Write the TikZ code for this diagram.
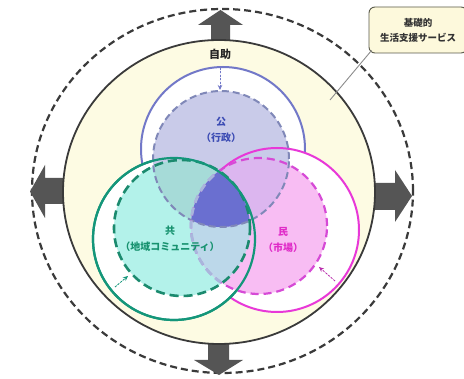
\documentclass[tikz,border=0pt]{standalone}
\usepackage{fontspec}
\setmainfont{Noto Sans CJK JP}
\usetikzlibrary{arrows.meta}
\definecolor{yellowbg}{HTML}{FDFBE3}
\definecolor{ringline}{HTML}{3A3A3A}
\definecolor{arrowgrey}{HTML}{555555}
\definecolor{bsolid}{HTML}{7278C8}
\definecolor{gsolid}{HTML}{14967A}
\definecolor{psolid}{HTML}{E838D8}
\definecolor{bdash}{HTML}{8088B8}
\definecolor{gdash}{HTML}{1B8A6E}
\definecolor{pdash}{HTML}{D64AD6}
\definecolor{pfaded}{HTML}{A9B6DC}
\definecolor{fillB}{HTML}{C9CBE9}
\definecolor{fillG}{HTML}{B3F2EA}
\definecolor{fillP}{HTML}{F8BDF3}
\definecolor{fillBG}{HTML}{A6DBD8}
\definecolor{fillBP}{HTML}{DCB6EF}
\definecolor{fillGP}{HTML}{BCD8EA}
\definecolor{fillBGP}{HTML}{6A6FD0}
\definecolor{boxfill}{HTML}{FDF9DC}
\definecolor{boxline}{HTML}{5A5A4A}
\definecolor{txtB}{HTML}{3C4CB4}
\definecolor{txtG}{HTML}{17926F}
\definecolor{txtP}{HTML}{E02CC8}
\tikzset{
  bigarrow/.style={fill=arrowgrey},
  outerring/.style={draw=ringline, line width=2.2pt, dash pattern=on 7pt off 4pt},
  selfhelp/.style={fill=yellowbg, draw=ringline, line width=1.8pt},
  solidB/.style={draw=bsolid, line width=2pt},
  solidG/.style={draw=gsolid, line width=2.2pt},
  solidP/.style={draw=psolid, line width=2pt},
  dashB/.style={draw=bdash, line width=2pt, dash pattern=on 7pt off 4pt},
  dashG/.style={draw=gdash, line width=2.6pt, dash pattern=on 9pt off 5pt},
  dashP/.style={draw=pdash, line width=2.2pt, dash pattern=on 8pt off 5pt},
  smallarrow/.style={line width=0.8pt, dash pattern=on 2pt off 1.5pt, -{Stealth[length=5pt,width=4.5pt]}},
  lbl/.style={font=\bfseries\fontsize{10}{16}\selectfont, align=center, inner sep=0pt},
  calloutbox/.style={draw=boxline, fill=boxfill, line width=0.9pt, rounded corners=6pt,
     minimum width=98pt, minimum height=46pt, align=center, text=black!80,
     font=\bfseries\fontsize{9.5}{15}\selectfont},
  calloutline/.style={draw=black!45, line width=0.9pt}
}
\begin{document}
\begin{tikzpicture}[x=1pt,y=-1pt]
\useasboundingbox (0,0) rectangle (464,379);
\fill[white] (0,0) rectangle (464,379);

% centres
\coordinate (O) at (219,192);
\coordinate (Oo) at (222.5,191);
\coordinate (Bs) at (223,149);
\coordinate (Gs) at (174,239);
\coordinate (Ps) at (277,230);
\coordinate (Bd) at (221,159);
\coordinate (Gd) at (182,228);
\coordinate (Pd) at (259,226);

% outer dashed ring
\path[outerring] (Oo) ellipse [x radius=190.5pt, y radius=182pt];

% four big arrows
\fill[bigarrow] (211,45) -- (211,25) -- (198,25) -- (220.5,10) -- (243,25) -- (230,25) -- (230,45) -- cycle;
\fill[bigarrow] (208,330) -- (208,360) -- (194,360) -- (219,375) -- (243,360) -- (229,360) -- (229,330) -- cycle;
\fill[bigarrow] (75,178) -- (45,178) -- (45,165) -- (30,191.5) -- (45,218) -- (45,204) -- (75,204) -- cycle;
\fill[bigarrow] (365,183) -- (395,183) -- (395,170) -- (412,196) -- (395,222) -- (395,210) -- (365,210) -- cycle;

% self-help circle
\path[selfhelp] (O) ellipse [x radius=156pt, y radius=152pt];

% solid circles (white) in layer order
\path[fill=white, solidB] (Bs) circle [radius=82pt];
\path[fill=white, solidP] (Ps) circle [radius=82pt];
\path[fill=white, solidG] (Gs) circle [radius=81pt];

% region fills of the dashed circles
\fill[fillB] (Bd) circle [radius=68pt];
\fill[fillG] (Gd) circle [radius=68pt];
\fill[fillP] (Pd) circle [radius=68pt];
\begin{scope}
  \clip (Gd) circle [radius=68pt];
  \fill[fillGP] (Pd) circle [radius=68pt];
\end{scope}
\begin{scope}
  \clip (Bd) circle [radius=68pt];
  \fill[fillBG] (Gd) circle [radius=68pt];
  \fill[fillBP] (Pd) circle [radius=68pt];
  \clip (Gd) circle [radius=68pt];
  \fill[fillBGP] (Pd) circle [radius=68pt];
\end{scope}

% pink solid outline visible over the blue dashed fill
\begin{scope}
  \clip (221,0) rectangle (464,379);
  \clip (Bd) circle [radius=70pt];
  \path[solidP] (Ps) circle [radius=82pt];
\end{scope}

% dashed outlines
\path[dashB] (Bd) circle [radius=68pt];
\path[dashP] (Pd) circle [radius=68pt];
\begin{scope}
  \clip (Gd) circle [radius=67pt];
  \path[dashP, draw=pfaded, line width=2.8pt] (Pd) circle [radius=68pt];
\end{scope}
\path[dashG] (Gd) circle [radius=68pt];
\path[solidG] (Gs) circle [radius=81pt];

% small arrows from solid to dashed circles
\coordinate (bA) at (220,68);  \coordinate (bB) at (220,90);
\coordinate (gA) at (115,287); \coordinate (gB) at (128,276);
\coordinate (pA) at (335,281); \coordinate (pB) at (319,267);
\draw[smallarrow, draw=bsolid, fill=bsolid] (bA) -- (bB);
\draw[smallarrow, draw=gsolid, fill=gsolid] (gA) -- (gB);
\draw[smallarrow, draw=psolid!80!black, fill=psolid!80!black] (pA) -- (pB);

% labels
\node[lbl, text=black!85, font=\bfseries\fontsize{11}{13}\selectfont] (jijo) at (220,54) {自助};
\node[lbl, text=txtB] (ko) at (221,130) {公\\（行政）};
\node[lbl, text=txtG] (kyo) at (170,239) {共\\（地域コミュニティ）};
\node[lbl, text=txtP] (min) at (283,240) {民\\（市場）};

% callout
\node[calloutbox] (cb) at (418,30) {基礎的\\生活支援サービス};
\coordinate (ct) at (330,100);
\draw[calloutline] ([shift={(3pt,3pt)}]cb.south west) -- (ct);
\end{tikzpicture}
\end{document}
